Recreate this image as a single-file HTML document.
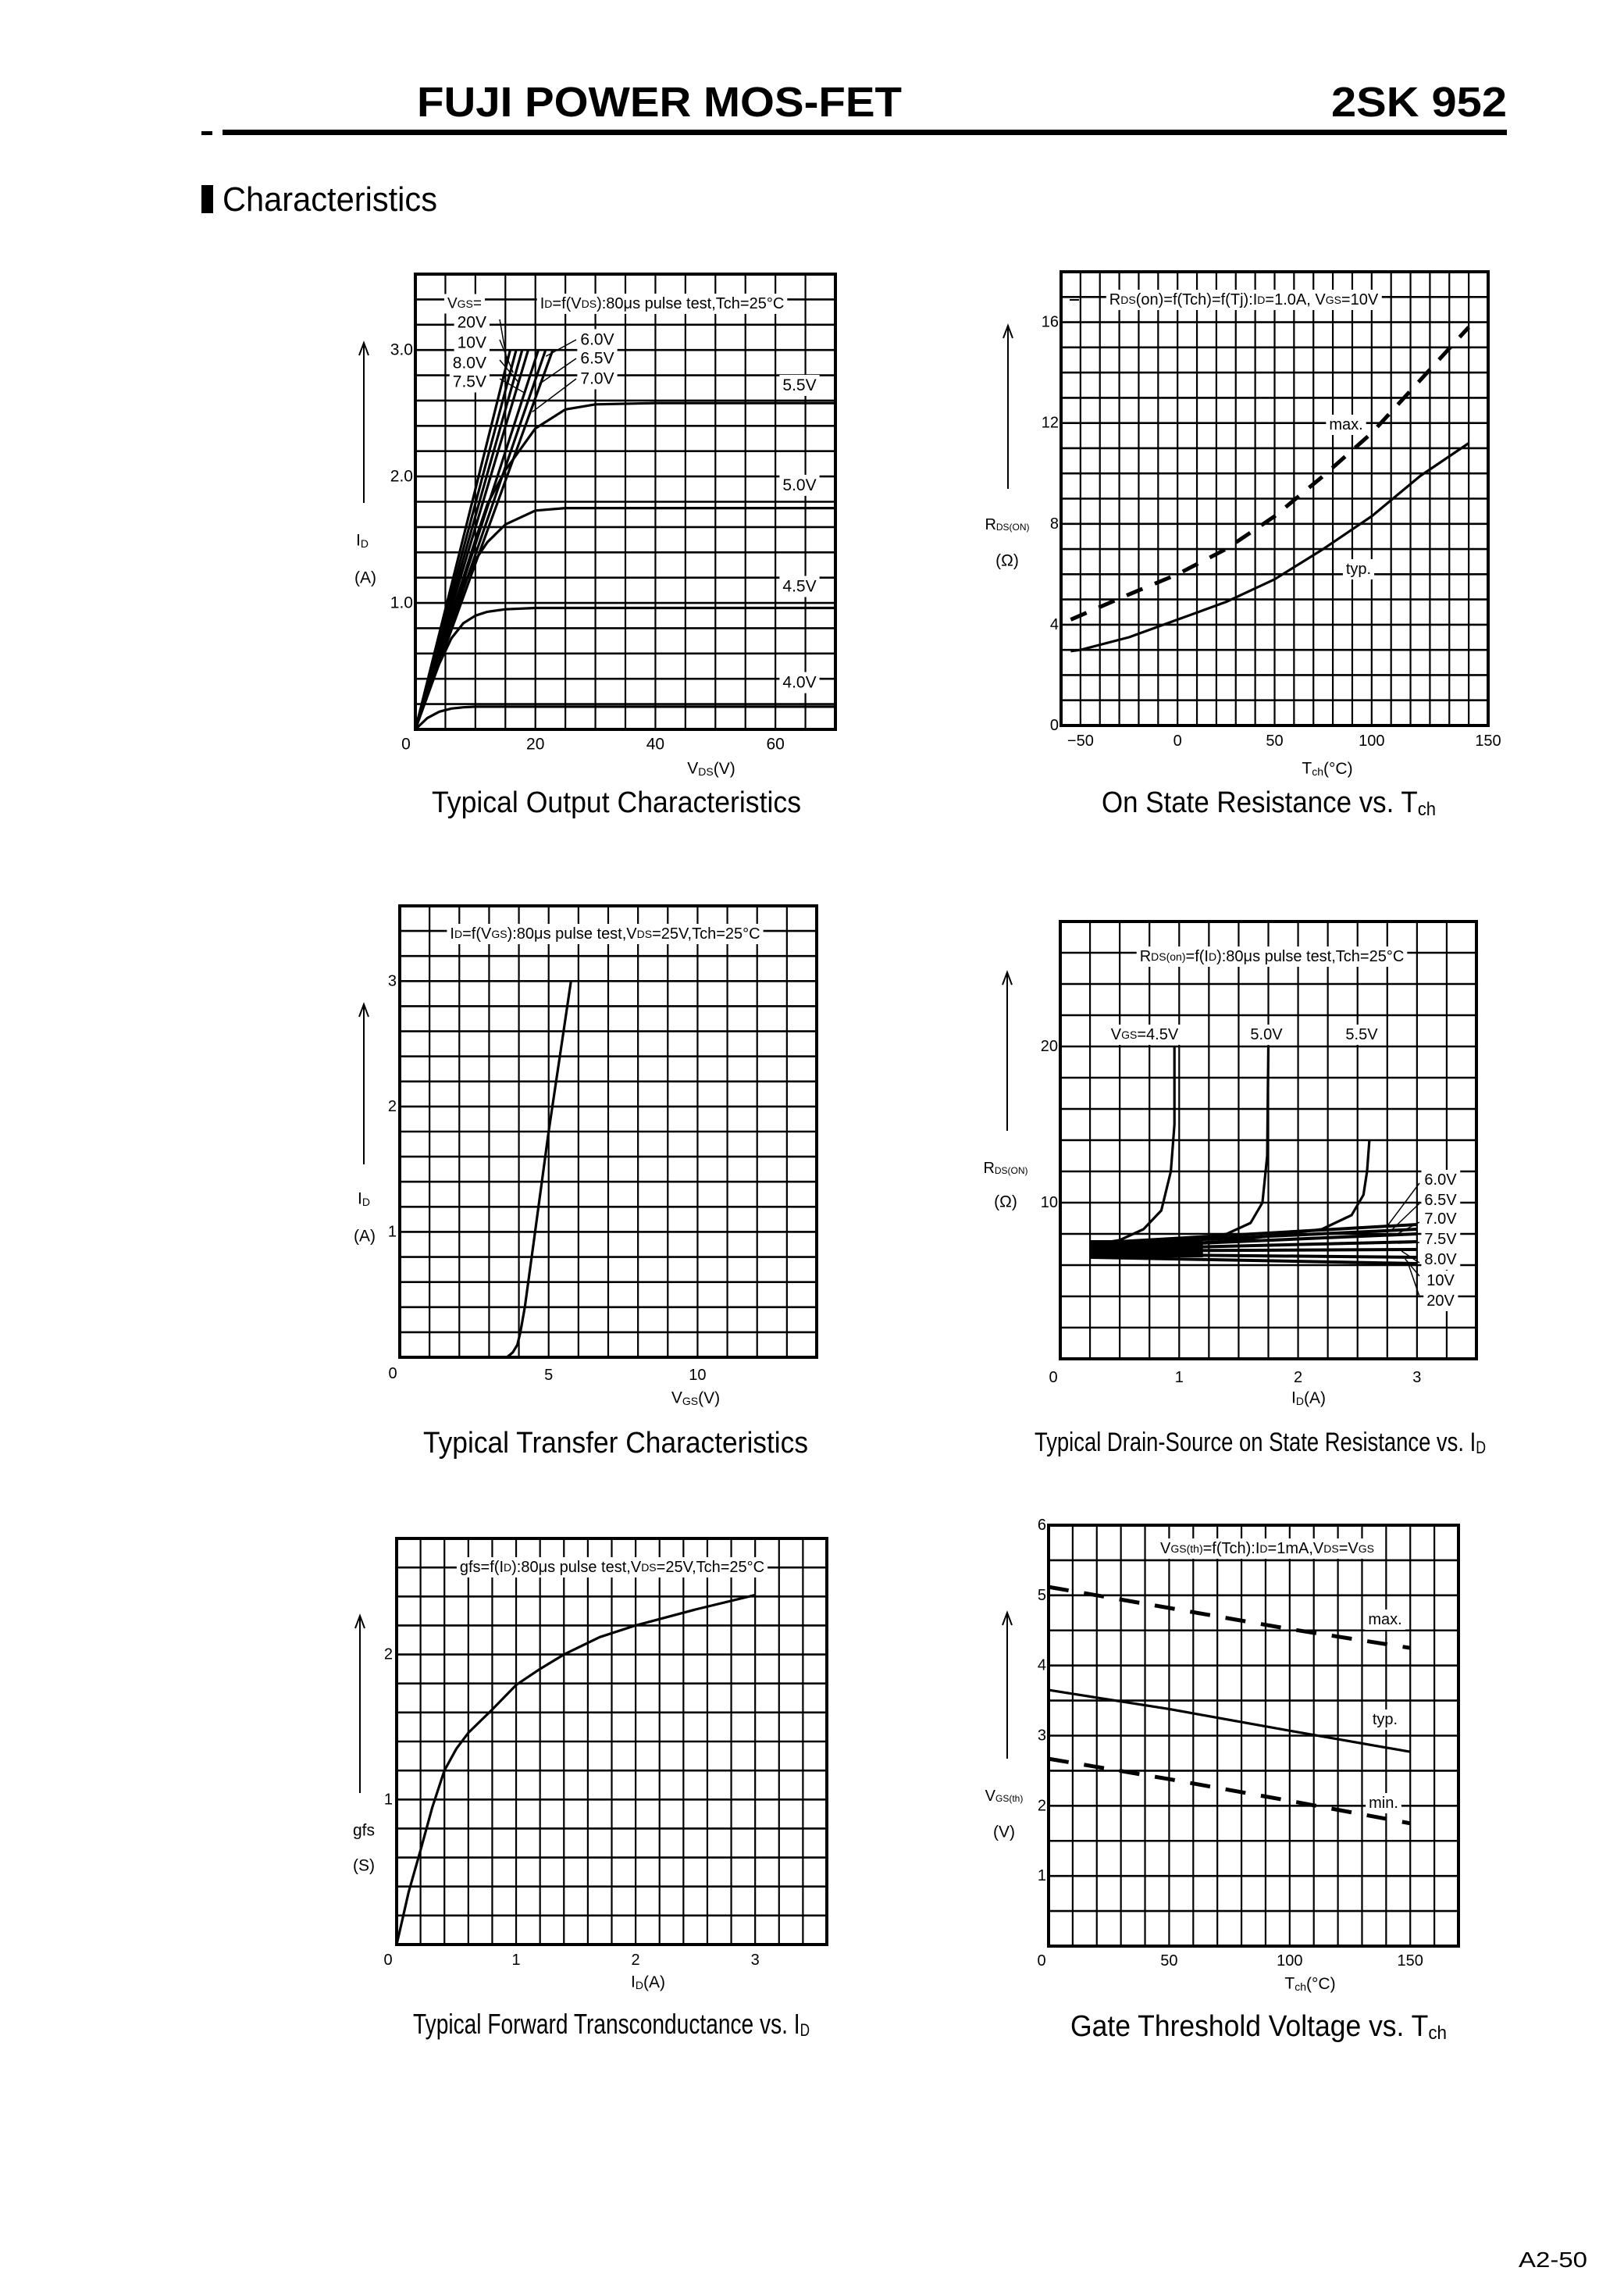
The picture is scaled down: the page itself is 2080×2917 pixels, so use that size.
<!DOCTYPE html>
<html><head><meta charset="utf-8"><title>2SK 952 Characteristics</title>
<style>
html,body{margin:0;padding:0;background:#fff;}
svg{display:block;}
text{fill:#000;}
</style></head>
<body>
<svg id="page" width="2080" height="2917" viewBox="0 0 2080 2917" xmlns="http://www.w3.org/2000/svg" font-family="'Liberation Sans', sans-serif">
<rect x="0" y="0" width="2080" height="2917" fill="#fff"/>
<text x="534" y="149" font-size="54" font-weight="bold" textLength="621" lengthAdjust="spacingAndGlyphs">FUJI POWER MOS-FET</text>
<text x="1705" y="149" font-size="54" font-weight="bold" textLength="225" lengthAdjust="spacingAndGlyphs">2SK 952</text>
<rect x="258" y="168" width="14" height="5" fill="#000"/>
<rect x="285" y="166" width="1645" height="7" fill="#000"/>
<rect x="258" y="237" width="15" height="36" fill="#000"/>
<text x="285" y="270" font-size="44" textLength="275" lengthAdjust="spacingAndGlyphs">Characteristics</text>

<text x="553" y="1040" font-size="38" textLength="473" lengthAdjust="spacingAndGlyphs">Typical Output Characteristics</text>
<text x="1411" y="1040" font-size="38" textLength="428" lengthAdjust="spacingAndGlyphs">On State Resistance vs. T<tspan font-size="24" dy="4">ch</tspan></text>
<text x="542" y="1860" font-size="38" textLength="493" lengthAdjust="spacingAndGlyphs">Typical Transfer Characteristics</text>
<text x="1325" y="1858" font-size="34" textLength="578" lengthAdjust="spacingAndGlyphs">Typical Drain-Source on State Resistance vs. I<tspan font-size="22" dy="3">D</tspan></text>
<text x="529" y="2604" font-size="36" textLength="508" lengthAdjust="spacingAndGlyphs">Typical Forward Transconductance vs. I<tspan font-size="22" dy="3">D</tspan></text>
<text x="1371" y="2607" font-size="38" textLength="482" lengthAdjust="spacingAndGlyphs">Gate Threshold Voltage vs. T<tspan font-size="24" dy="4">ch</tspan></text>
<text x="1945" y="2903" font-size="28" textLength="88" lengthAdjust="spacingAndGlyphs">A2-50</text>
</svg>
<script>
// ---------- DATA ----------
// Chart 1: output characteristics
const out_vds = [0,2,4,6,8,10,12,15,20,25,30,40,50,60,70];
const out_id_40 = [0,0.09,0.14,0.165,0.175,0.18,0.18,0.18,0.18,0.18,0.18,0.18,0.18,0.18,0.18];
const out_id_45 = [0,0.28,0.52,0.72,0.84,0.9,0.93,0.95,0.96,0.96,0.96,0.96,0.96,0.96,0.96];
const out_id_50 = [0,0.3,0.6,0.88,1.13,1.34,1.48,1.62,1.73,1.75,1.75,1.75,1.75,1.75,1.75];
const out_id_55 = [0,0.3,0.6,0.9,1.2,1.5,1.78,2.05,2.38,2.53,2.57,2.58,2.58,2.58,2.58];
const out_sat_labels = ['4.0V','4.5V','5.0V','5.5V'];
const out_sat_label_id = [0.37,1.13,1.93,2.72];
const out_steep_labels = ['20V','10V','8.0V','7.5V','7.0V','6.5V','6.0V'];
const out_steep_vds = [15.8,16.8,17.8,18.8,20.5,21.7,22.9];
const out_xticks = [0,20,40,60];
const out_yticks = [1.0,2.0,3.0];
// Chart 2: on-state resistance vs Tch
const rt_T_typ = [-55,-50,-25,0,25,50,75,100,125,150];
const rt_typ = [2.95,3.0,3.5,4.2,4.9,5.8,7.0,8.3,9.9,11.2];
const rt_T_max = [-55,-25,0,25,50,75,100,125,150];
const rt_max = [4.2,5.2,6.0,7.0,8.3,9.9,11.6,13.7,15.8];
const rt_xticks = [-50,0,50,100,160];
const rt_xlabels = ['\u221250','0','50','100','150'];
const rt_yticks = [0,4,8,12,16];
// Chart 3: transfer
const tr_vgs = [3.6,3.8,3.95,4.05,4.2,4.5,5.0,5.5,5.75];
const tr_id = [0,0.04,0.1,0.2,0.4,0.92,1.8,2.6,3.0];
const tr_xticks = [5,10];
const tr_yticks = [1,2,3];
// Chart 4: Rds(on) vs Id
const rd_id_45 = [0.25,0.5,0.7,0.85,0.93,0.96,0.96];
const rd_r_45 = [7.3,7.6,8.3,9.5,12,15,20];
const rd_id_50 = [0.25,1.0,1.4,1.6,1.7,1.74,1.75];
const rd_r_50 = [7.1,7.5,8.0,8.7,10,13,20];
const rd_id_55 = [0.25,1.5,2.2,2.45,2.55,2.58,2.6];
const rd_r_55 = [7.0,7.6,8.3,9.2,10.5,12,14];
const rd_bundle_labels = ['6.0V','6.5V','7.0V','7.5V','8.0V','10V','20V'];
const rd_bundle_start = [7.4,7.3,7.1,7.0,6.9,6.7,6.5];
const rd_bundle_end = [8.6,8.3,8.0,7.5,7.0,6.5,6.1];
const rd_xticks = [1,2,3];
const rd_yticks = [10,20];
// Chart 5: gfs vs Id
const gf_id = [0,0.05,0.1,0.2,0.3,0.4,0.5,0.6,0.8,1.0,1.2,1.4,1.7,2.0,2.5,3.0];
const gf_gfs = [0,0.18,0.36,0.65,0.95,1.2,1.35,1.46,1.62,1.79,1.9,2.0,2.12,2.2,2.31,2.41];
const gf_xticks = [1,2,3];
const gf_yticks = [1,2];
// Chart 6: Vgs(th) vs Tch
const vt_T = [0,50,100,150];
const vt_typ = [3.65,3.38,3.07,2.77];
const vt_max = [5.12,4.82,4.52,4.25];
const vt_min = [2.67,2.38,2.07,1.75];
const vt_xticks = [50,100,150];
const vt_yticks = [1,2,3,4,5,6];

// ---------- HELPERS ----------
const NS='http://www.w3.org/2000/svg';
const svg=document.getElementById('page');
function mk(tag,attrs,parent,name){
  const e=document.createElementNS(NS,tag);
  for(const k in attrs) e.setAttribute(k,attrs[k]);
  
  
  parent.appendChild(e);
  return e;
}
function scale(x0,x1,y0,y1,xmin,xmax,ymin,ymax){
  return {x:v=>x0+(v-xmin)/(xmax-xmin)*(x1-x0), y:v=>y1-(v-ymin)/(ymax-ymin)*(y1-y0),
    x0,x1,y0,y1,xmin,xmax,ymin,ymax};
}
function grid(g,S,xs,ys){
  const nx=Math.round((S.xmax-S.xmin)/xs), ny=Math.round((S.ymax-S.ymin)/ys);
  for(let i=1;i<nx;i++){const x=S.x(S.xmin+i*xs);
    mk('line',{x1:x,y1:S.y0,x2:x,y2:S.y1,stroke:'#000','stroke-width':2.2},g,'grid-line-vertical');}
  for(let j=1;j<ny;j++){const y=S.y(S.ymin+j*ys);
    mk('line',{x1:S.x0,y1:y,x2:S.x1,y2:y,stroke:'#000','stroke-width':2.6},g,'grid-line-horizontal');}
  mk('rect',{x:S.x0,y:S.y0,width:S.x1-S.x0,height:S.y1-S.y0,fill:'none',stroke:'#000','stroke-width':4},g,'plot-frame');
}
function pathD(S,xs,ys){return xs.map((v,i)=>(i?'L':'M')+S.x(v).toFixed(1)+','+S.y(ys[i]).toFixed(1)).join(' ');}
function curve(g,S,xs,ys,name,dash,w){
  const a={d:pathD(S,xs,ys),fill:'none',stroke:'#000','stroke-width':w||(dash?5:3.2),'stroke-linejoin':'round'};
  if(dash) a['stroke-dasharray']=dash;
  return mk('path',a,g,name);
}
function label(g,x,y,html,size,anchor,name,bg){
  const t=mk('text',{x:x,y:y,'font-size':size,'text-anchor':anchor||'middle','dominant-baseline':'central'},g,name);
  t.innerHTML=html;
  if(bg){const b=t.getBBox();
    const r=mk('rect',{x:b.x-4,y:b.y-2,width:b.width+8,height:b.height+4,fill:'#fff'},g,name+'-background');
    g.insertBefore(r,t);}
  return t;
}
function seg(g,x1,y1,x2,y2,name,w){return mk('line',{x1,y1,x2,y2,stroke:'#000','stroke-width':w||2},g,name);}
function arrow(g,x,ytop,ybot,name){
  seg(g,x,ytop,x,ybot,name,2);
  mk('path',{d:`M${x-6},${ytop+16} L${x},${ytop} L${x+6},${ytop+16}`,fill:'none',stroke:'#000','stroke-width':2},g,name+'-head');
}
function group(name){const g=mk('g',{},svg,name);return g;}

// ---------- CHART 1 ----------
(function(){
  const g=group('chart-output-characteristics');
  const S=scale(532,1070,351,934,0,70,0,3.6);
  grid(g,S,5,0.2);
  [out_id_40,out_id_45,out_id_50,out_id_55].forEach((ys,i)=>curve(g,S,out_vds,ys,'curve-vgs-'+out_sat_labels[i]));
  out_steep_vds.forEach((v,i)=>{mk('line',{x1:S.x(0),y1:S.y(0),x2:S.x(v),y2:S.y(3.0),stroke:'#000','stroke-width':3.2},g,'curve-vgs-'+out_steep_labels[i]);});
  out_sat_labels.forEach((l,i)=>label(g,1024,S.y(out_sat_label_id[i]),l,21,'middle','curve-label-'+l,true));
  label(g,595,389,'V<tspan font-size="14">GS</tspan>=',19,'middle','vgs-legend-title',true);
  label(g,848,389,'I<tspan font-size="14">D</tspan>=f(V<tspan font-size="14">DS</tspan>):80μs pulse test,Tch=25°C',20,'middle','chart-annotation',true);
  const left=['20V','10V','8.0V','7.5V'], ly=[413,439,465,489];
  left.forEach((l,i)=>{label(g,623,ly[i],l,21,'end','steep-label-'+l,true);
    seg(g,640,ly[i]-4,S.x(out_steep_vds[i]*0.97),S.y(2.9-i*0.08),'leader-'+l,1.5);});
  const right=['6.0V','6.5V','7.0V'], ry=[435,459,485];
  right.forEach((l,i)=>{label(g,765,ry[i],l,21,'middle','steep-label-'+l,true);
    seg(g,738,ry[i],S.x(out_steep_vds[6-i]*0.95),S.y(2.95-i*0.22),'leader-'+l,1.5);});
  out_xticks.forEach(v=>label(g,v===0?520:S.x(v),953,String(v),21,'middle','x-tick-'+v));
  out_yticks.forEach(v=>label(g,529,S.y(v),v.toFixed(1),21,'end','y-tick-'+v));
  label(g,911,984,'V<tspan font-size="14" dy="4">DS</tspan><tspan dy="-4">(V)</tspan>',21,'middle','x-axis-title');
  label(g,464,692,'I<tspan font-size="14" dy="4">D</tspan>',21,'middle','y-axis-title');
  label(g,468,740,'(A)',21,'middle','y-axis-unit');
  arrow(g,466,439,644,'y-axis-arrow');
})();

// ---------- CHART 2 ----------
(function(){
  const g=group('chart-on-resistance-vs-tch');
  const S=scale(1359,1906,348,929,-60,160,0,18);
  grid(g,S,10,1);
  curve(g,S,rt_T_typ,rt_typ,'curve-typ');
  curve(g,S,rt_T_max,rt_max,'curve-max','22 17');
  label(g,1593,384,'R<tspan font-size="14">DS</tspan>(on)=f(Tch)=f(Tj):I<tspan font-size="14">D</tspan>=1.0A, V<tspan font-size="14">GS</tspan>=10V',20,'middle','chart-annotation',true);
  seg(g,1370,384,1382,384,'annotation-dash',2);
  label(g,1724,544,'max.',20,'middle','max-label',true);
  label(g,1740,729,'typ.',20,'middle','typ-label',true);
  rt_xticks.forEach((v,i)=>label(g,S.x(v),949,rt_xlabels[i],20,'middle','x-tick-'+rt_xlabels[i]));
  rt_yticks.forEach(v=>label(g,1356,S.y(v),String(v),20,'end','y-tick-'+v));
  label(g,1700,984,'T<tspan font-size="14" dy="4">ch</tspan><tspan dy="-4">(°C)</tspan>',21,'middle','x-axis-title');
  label(g,1290,672,'R<tspan font-size="12" dy="3">DS(ON)</tspan>',20,'middle','y-axis-title');
  label(g,1290,718,'(Ω)',21,'middle','y-axis-unit');
  arrow(g,1291,417,626,'y-axis-arrow');
})();

// ---------- CHART 3 ----------
(function(){
  const g=group('chart-transfer-characteristics');
  const S=scale(512,1046,1160,1738,0,14,0,3.6);
  grid(g,S,1,0.2);
  curve(g,S,tr_vgs,tr_id,'curve-transfer');
  label(g,775,1196,'I<tspan font-size="14">D</tspan>=f(V<tspan font-size="14">GS</tspan>):80μs pulse test,V<tspan font-size="14">DS</tspan>=25V,Tch=25°C',20,'middle','chart-annotation',true);
  tr_xticks.forEach(v=>label(g,S.x(v),1761,String(v),20,'middle','x-tick-'+v));
  label(g,503,1759,'0',20,'middle','x-tick-0');
  tr_yticks.forEach(v=>label(g,508,S.y(v),String(v),20,'end','y-tick-'+v));
  label(g,891,1790,'V<tspan font-size="14" dy="4">GS</tspan><tspan dy="-4">(V)</tspan>',21,'middle','x-axis-title');
  label(g,466,1535,'I<tspan font-size="14" dy="4">D</tspan>',21,'middle','y-axis-title');
  label(g,467,1583,'(A)',21,'middle','y-axis-unit');
  arrow(g,466,1286,1491,'y-axis-arrow');
})();

// ---------- CHART 4 ----------
(function(){
  const g=group('chart-rds-on-vs-id');
  const S=scale(1358,1891,1180,1740,0,3.5,0,28);
  grid(g,S,0.25,2);
  rd_bundle_start.forEach((r0,i)=>{
    const xs=[0.25,3.0], ys=[r0,rd_bundle_end[i]];
    curve(g,S,xs,ys,'curve-vgs-'+rd_bundle_labels[i],null,4);});
  mk('rect',{x:S.x(0.25),y:S.y(7.6),width:S.x(1.2)-S.x(0.25),height:S.y(6.5)-S.y(7.6),fill:'#000'},g,'curve-bundle-fill');
  curve(g,S,rd_id_45,rd_r_45,'curve-vgs-4.5V');
  curve(g,S,rd_id_50,rd_r_50,'curve-vgs-5.0V');
  curve(g,S,rd_id_55,rd_r_55,'curve-vgs-5.5V');
  label(g,1629,1225,'R<tspan font-size="14">DS(on)</tspan>=f(I<tspan font-size="14">D</tspan>):80μs pulse test,Tch=25°C',20,'middle','chart-annotation',true);
  label(g,1466,1325,'V<tspan font-size="14">GS</tspan>=4.5V',20,'middle','label-4.5V',true);
  label(g,1622,1325,'5.0V',20,'middle','label-5.0V',true);
  label(g,1744,1325,'5.5V',20,'middle','label-5.5V',true);
  const ly=[1511,1537,1561,1587,1613,1640,1666];
  rd_bundle_labels.forEach((l,i)=>{label(g,1845,ly[i],l,20,'middle','label-'+l,true);
    seg(g,1818,ly[i]+(i<5?4:-6),S.x(2.75+i*0.03),S.y(rd_bundle_end[i]-0.1),'leader-'+l,1.5);});
  rd_xticks.forEach(v=>label(g,S.x(v),1764,String(v),20,'middle','x-tick-'+v));
  label(g,1349,1764,'0',20,'middle','x-tick-0');
  rd_yticks.forEach(v=>label(g,1355,S.y(v),String(v),20,'end','y-tick-'+v));
  label(g,1676,1790,'I<tspan font-size="14" dy="4">D</tspan><tspan dy="-4">(A)</tspan>',21,'middle','x-axis-title');
  label(g,1288,1496,'R<tspan font-size="12" dy="3">DS(ON)</tspan>',20,'middle','y-axis-title');
  label(g,1288,1539,'(Ω)',21,'middle','y-axis-unit');
  arrow(g,1290,1245,1448,'y-axis-arrow');
})();

// ---------- CHART 5 ----------
(function(){
  const g=group('chart-forward-transconductance');
  const S=scale(508,1059,1970,2490,0,3.6,0,2.8);
  grid(g,S,0.2,0.2);
  curve(g,S,gf_id,gf_gfs,'curve-gfs');
  label(g,784,2007,'gfs=f(I<tspan font-size="14">D</tspan>):80μs pulse test,V<tspan font-size="14">DS</tspan>=25V,Tch=25°C',20,'middle','chart-annotation',true);
  gf_xticks.forEach(v=>label(g,S.x(v),2510,String(v),20,'middle','x-tick-'+v));
  label(g,497,2510,'0',20,'middle','x-tick-0');
  gf_yticks.forEach(v=>label(g,503,S.y(v),String(v),20,'end','y-tick-'+v));
  label(g,830,2538,'I<tspan font-size="14" dy="4">D</tspan><tspan dy="-4">(A)</tspan>',21,'middle','x-axis-title');
  label(g,466,2344,'gfs',21,'middle','y-axis-title');
  label(g,466,2389,'(S)',21,'middle','y-axis-unit');
  arrow(g,461,2069,2296,'y-axis-arrow');
})();

// ---------- CHART 6 ----------
(function(){
  const g=group('chart-gate-threshold');
  const S=scale(1343,1868,1953,2492,0,170,0,6);
  grid(g,S,10,0.5);
  curve(g,S,vt_T,vt_typ,'curve-typ');
  curve(g,S,vt_T,vt_max,'curve-max','26 20');
  curve(g,S,vt_T,vt_min,'curve-min','26 20');
  label(g,1623,1983,'V<tspan font-size="14">GS(th)</tspan>=f(Tch):I<tspan font-size="14">D</tspan>=1mA,V<tspan font-size="14">DS</tspan>=V<tspan font-size="14">GS</tspan>',20,'middle','chart-annotation',true);
  label(g,1774,2074,'max.',20,'middle','max-label',true);
  label(g,1774,2202,'typ.',20,'middle','typ-label',true);
  label(g,1772,2309,'min.',20,'middle','min-label',true);
  vt_xticks.forEach(v=>label(g,S.x(v),2511,String(v),20,'middle','x-tick-'+v));
  label(g,1334,2511,'0',20,'middle','x-tick-0');
  vt_yticks.forEach(v=>label(g,1340,S.y(v),String(v),20,'end','y-tick-'+v));
  label(g,1678,2540,'T<tspan font-size="14" dy="4">ch</tspan><tspan dy="-4">(°C)</tspan>',21,'middle','x-axis-title');
  label(g,1286,2300,'V<tspan font-size="12" dy="3">GS(th)</tspan>',20,'middle','y-axis-title');
  label(g,1286,2346,'(V)',21,'middle','y-axis-unit');
  arrow(g,1290,2065,2252,'y-axis-arrow');
})();
</script>
</body></html>
